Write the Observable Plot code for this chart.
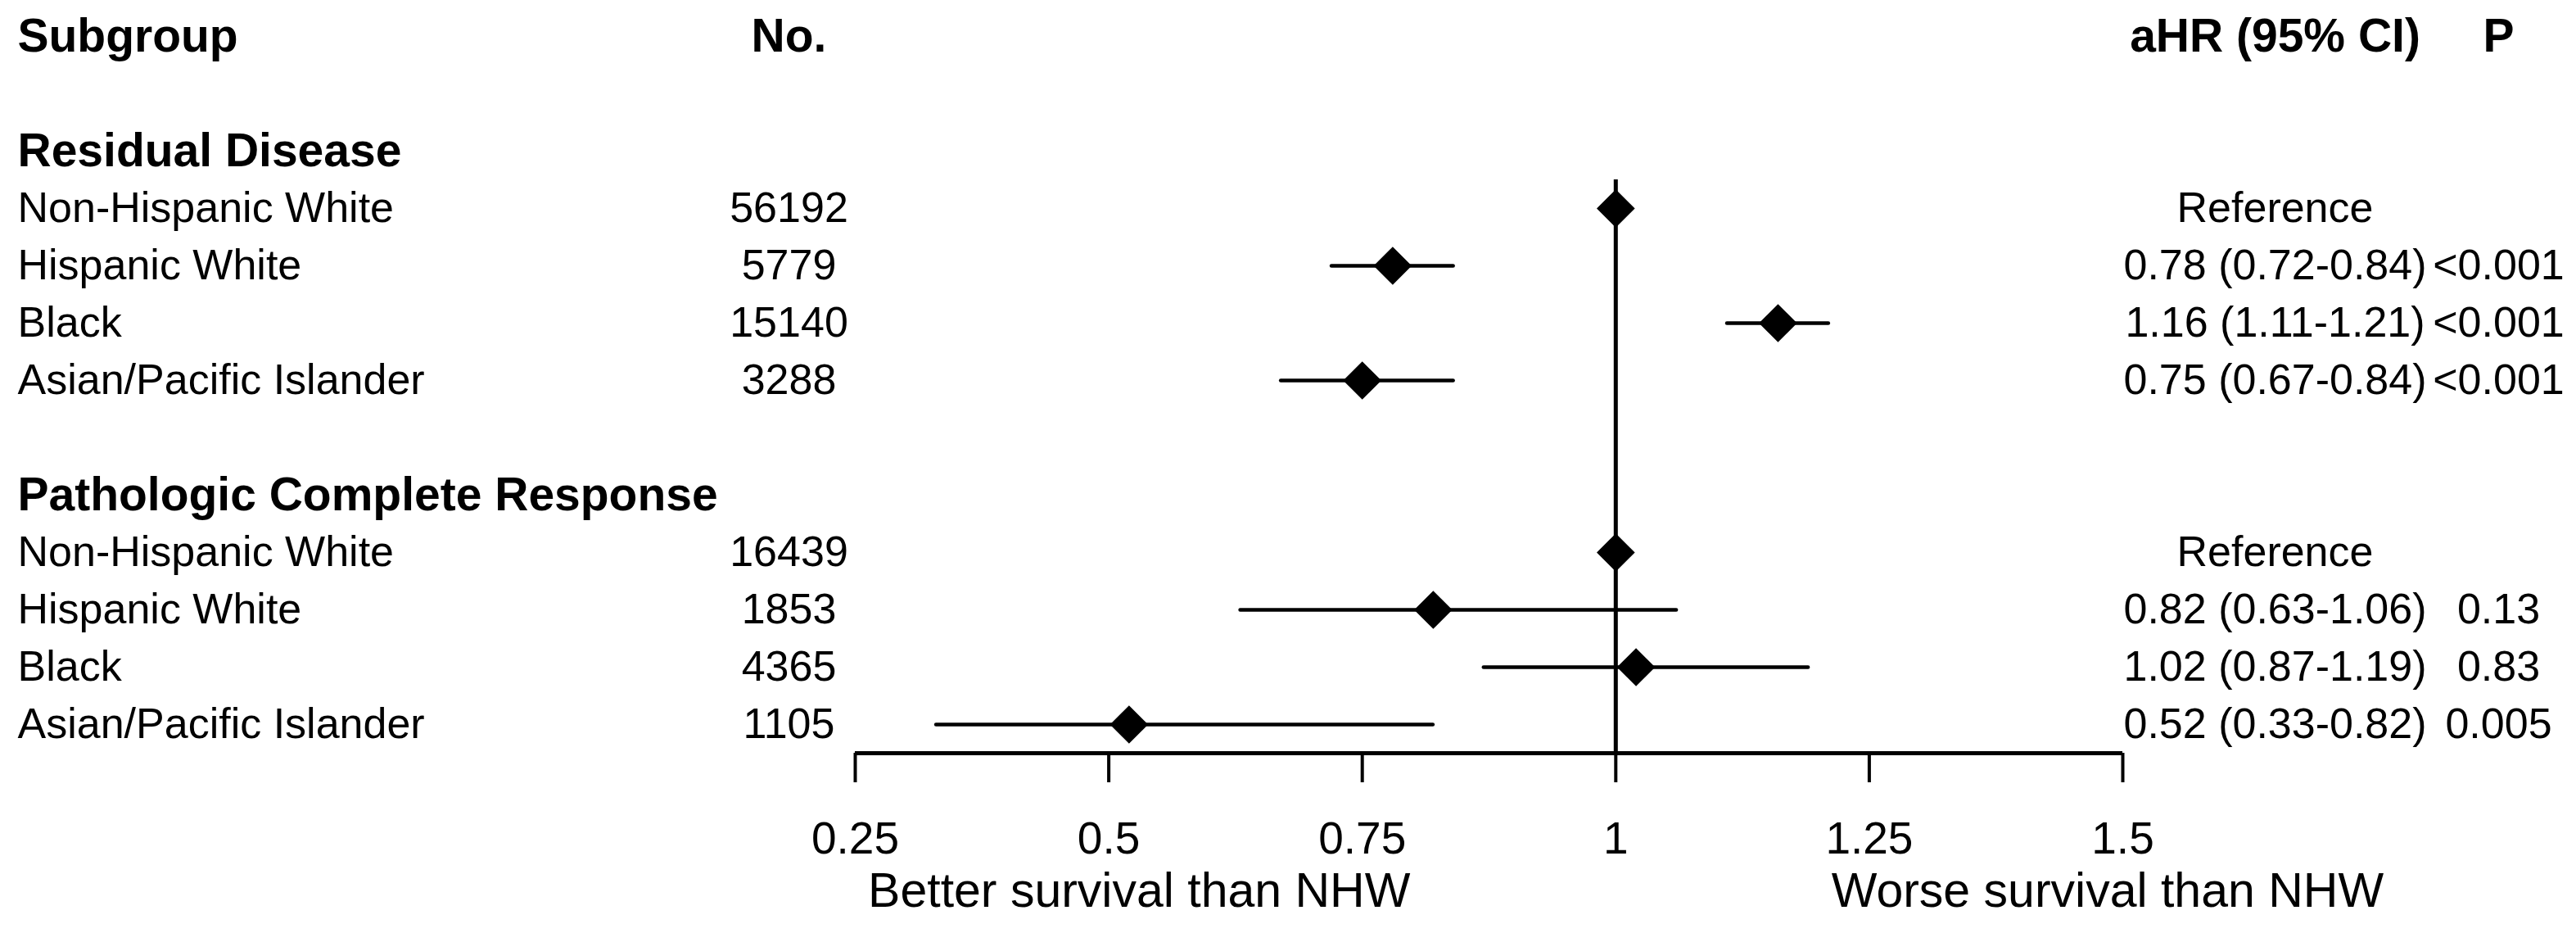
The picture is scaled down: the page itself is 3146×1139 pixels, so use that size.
<!DOCTYPE html>
<html>
<head>
<meta charset="utf-8">
<script src="https://cdn.jsdelivr.net/npm/d3@7"></script>
<script src="https://cdn.jsdelivr.net/npm/@observablehq/plot@0.6"></script>
<style>
  html, body { margin: 0; padding: 0; background: #fff; }
  #chart svg { display: block; }
</style>
</head>
<body>
<div id="chart"></div>
<script>
// ---- data ----
const groups = ["Residual Disease", "Pathologic Complete Response"];
const subgroups = ["Non-Hispanic White", "Hispanic White", "Black", "Asian/Pacific Islander"];

const rdN  = [56192, 5779, 15140, 3288];
const rdHR = [1, 0.78, 1.16, 0.75];
const rdLo = [null, 0.72, 1.11, 0.67];
const rdHi = [null, 0.84, 1.21, 0.84];
const rdP  = ["", "<0.001", "<0.001", "<0.001"];

const pcrN  = [16439, 1853, 4365, 1105];
const pcrHR = [1, 0.82, 1.02, 0.52];
const pcrLo = [null, 0.63, 0.87, 0.33];
const pcrHi = [null, 1.06, 1.19, 0.82];
const pcrP  = ["", "0.13", "0.83", "0.005"];

const headers = ["Subgroup", "No.", "aHR (95% CI)", "P"];
const referenceLabel = "Reference";
const xTicks = [0.25, 0.5, 0.75, 1, 1.25, 1.5];
const xTickLabels = ["0.25", "0.5", "0.75", "1", "1.25", "1.5"];
const directionLabels = ["Better survival than NHW", "Worse survival than NHW"];
const directionX = [0.53, 1.485];

// ---- build table rows (row index = y position) ----
const series = [
  {group: groups[0], n: rdN, hr: rdHR, lo: rdLo, hi: rdHi, p: rdP},
  {group: groups[1], n: pcrN, hr: pcrHR, lo: pcrLo, hi: pcrHi, p: pcrP}
];
const groupRows = [];
const rows = [];
let idx = 0;
series.forEach(s => {
  groupRows.push({label: s.group, row: idx});
  idx++;
  subgroups.forEach((name, i) => {
    rows.push({
      label: name, row: idx, n: s.n[i], hr: s.hr[i], lo: s.lo[i], hi: s.hi[i], p: s.p[i],
      est: s.lo[i] == null ? referenceLabel
        : `${s.hr[i].toFixed(2)} (${s.lo[i].toFixed(2)}-${s.hi[i].toFixed(2)})`
    });
    idx++;
  });
  idx++; // blank spacer row
});
const headerRow = -2;
const axisRow = rows[rows.length - 1].row + 0.5;
const refTop = 0.5;

// ---- layout (pixels) ----
const W = 3146, H = 1139;
const col = {label: 21, n: 963, est: 2778, p: 3051};
const FONT = "'Liberation Sans', Arial, Helvetica, sans-serif";
const rowFont = 52, boldFont = 57;

const chart = Plot.plot({
  width: W,
  height: H,
  marginLeft: 0,
  marginRight: 0,
  marginTop: 0,
  marginBottom: 220,
  x: {domain: [0.25, 1.5], range: [1044, 2592], axis: null},
  y: {domain: [-2, 10], range: [44, 884], axis: null},
  style: {fontFamily: FONT, background: "white", color: "black", overflow: "visible"},
  marks: [
    // reference line at HR = 1
    Plot.ruleX([1], {y1: refTop, y2: axisRow, stroke: "black", strokeWidth: 5}),
    // confidence intervals
    Plot.ruleY(rows.filter(d => d.lo != null), {y: "row", x1: "lo", x2: "hi", stroke: "black", strokeWidth: 4.5, strokeLinecap: "round"}),
    // point estimates
    Plot.dot(rows, {x: "hr", y: "row", symbol: "diamond2", r: 21, fill: "black", stroke: null}),
    // axis line
    Plot.ruleY([axisRow], {x1: xTicks[0], x2: xTicks[xTicks.length - 1], stroke: "black", strokeWidth: 5}),
    Plot.axisX({
      ticks: xTicks, tickSize: 36, tickPadding: 47, strokeWidth: 4, fontSize: 55,
      tickFormat: d => xTickLabels[xTicks.indexOf(d)], label: null, fill: "black"
    }),
    // direction labels
    Plot.text(directionLabels, {
      text: d => d, x: (d, i) => directionX[i], frameAnchor: "bottom", dy: 169,
      lineAnchor: "middle", fontSize: 59, fill: "black", textAnchor: "middle"
    }),
    // header row
    Plot.text([headers[0]], {text: d => d, y: () => headerRow, frameAnchor: "left", dx: col.label, textAnchor: "start", fontWeight: "bold", fontSize: boldFont, fill: "black"}),
    Plot.text([headers[1]], {text: d => d, y: () => headerRow, frameAnchor: "left", dx: col.n, textAnchor: "middle", fontWeight: "bold", fontSize: boldFont, fill: "black"}),
    Plot.text([headers[2]], {text: d => d, y: () => headerRow, frameAnchor: "left", dx: col.est, textAnchor: "middle", fontWeight: "bold", fontSize: boldFont, fill: "black"}),
    Plot.text([headers[3]], {text: d => d, y: () => headerRow, frameAnchor: "left", dx: col.p, textAnchor: "middle", fontWeight: "bold", fontSize: boldFont, fill: "black"}),
    // group headers
    Plot.text(groupRows, {text: "label", y: "row", frameAnchor: "left", dx: col.label, textAnchor: "start", fontWeight: "bold", fontSize: boldFont, fill: "black"}),
    // subgroup rows
    Plot.text(rows, {text: "label", y: "row", frameAnchor: "left", dx: col.label, textAnchor: "start", fontSize: rowFont, fill: "black"}),
    Plot.text(rows, {text: d => String(d.n), y: "row", frameAnchor: "left", dx: col.n, textAnchor: "middle", fontSize: rowFont, fill: "black"}),
    Plot.text(rows, {text: "est", y: "row", frameAnchor: "left", dx: col.est, textAnchor: "middle", fontSize: rowFont, fill: "black"}),
    Plot.text(rows, {text: "p", y: "row", frameAnchor: "left", dx: col.p, textAnchor: "middle", fontSize: rowFont, fill: "black"})
  ]
});

document.getElementById("chart").appendChild(chart);
</script>
</body>
</html>
